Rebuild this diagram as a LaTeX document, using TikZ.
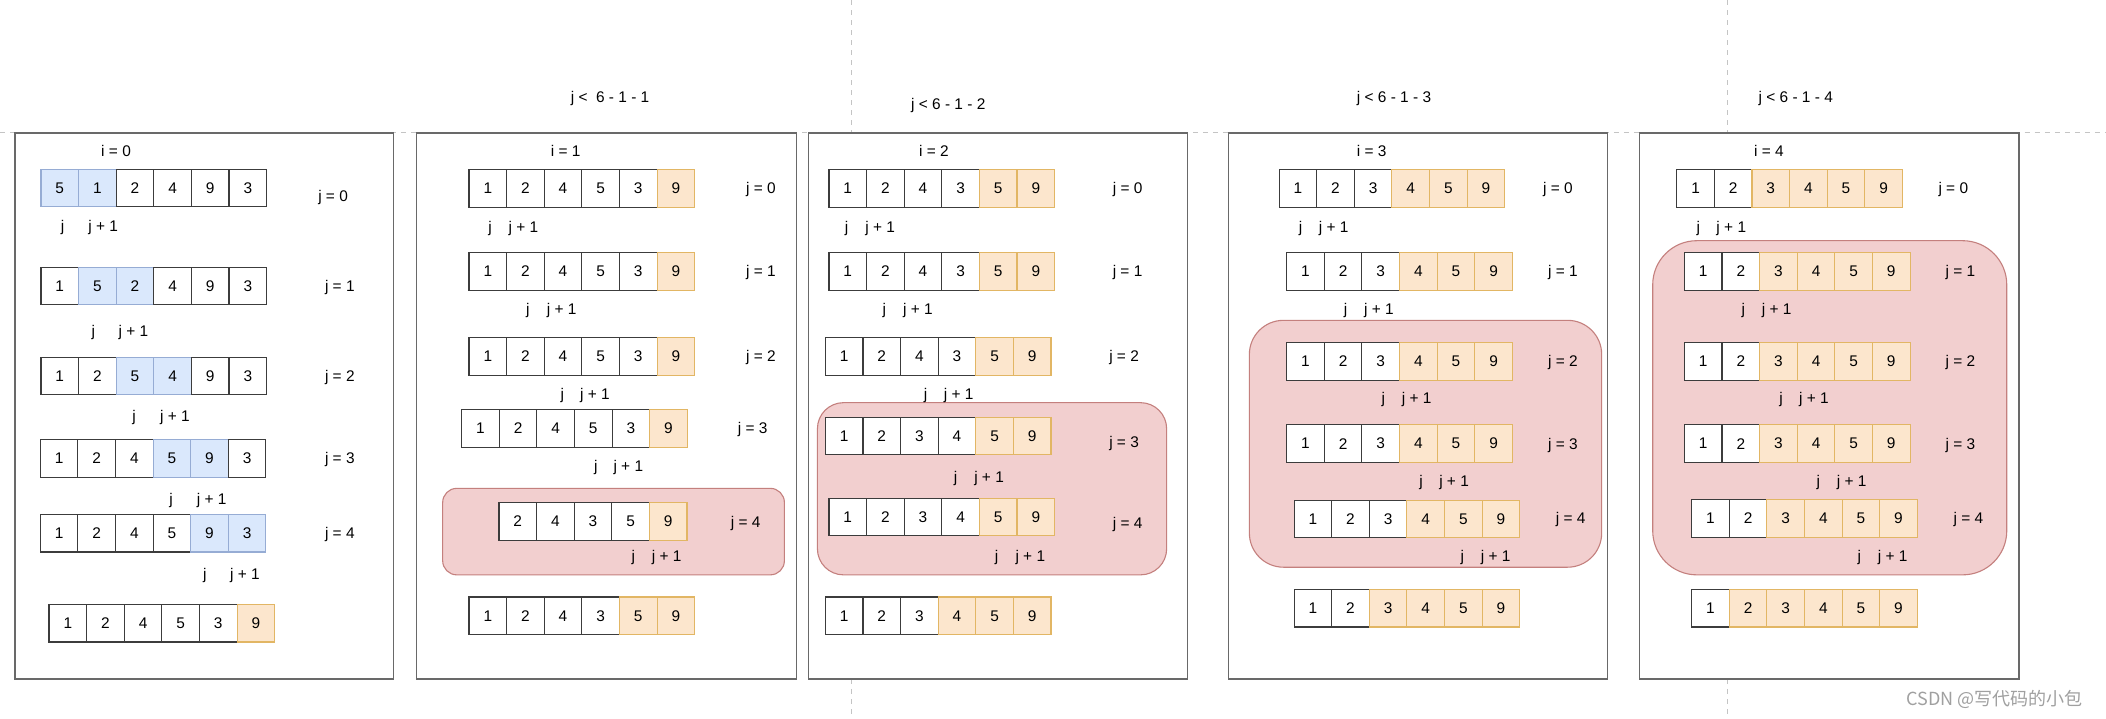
\documentclass[tikz,border=0pt]{standalone}
\usepackage{fontspec}
\setmainfont{Liberation Sans}
\newfontfamily\cjkfont{Noto Sans CJK SC}
\definecolor{cellline}{RGB}{60, 60, 60}
\definecolor{swapfill}{RGB}{218, 232, 252}
\definecolor{swapline}{RGB}{150, 172, 212}
\definecolor{donefill}{RGB}{252, 230, 205}
\definecolor{doneline}{RGB}{226, 182, 100}
\definecolor{tailfill}{RGB}{242, 207, 207}
\definecolor{tailline}{RGB}{196, 128, 126}
\definecolor{guideline}{RGB}{196, 196, 196}
\definecolor{panelline}{RGB}{105, 105, 105}
\definecolor{markgray}{RGB}{160, 160, 160}
\usetikzlibrary{calc}
\tikzset{
    every node/.style={font=\fontsize{7.7}{9}\selectfont},
    cellw/.style={draw=cellline, fill=white, line width=.55pt,
        minimum size=18.76pt, inner sep=0pt},
    cellb/.style={cellw, draw=swapline, fill=swapfill},
    cello/.style={cellw, draw=doneline, fill=donefill},
    kind/.style={cell#1},
    note/.style={inner sep=0pt, text height=5.5pt, text depth=0pt},
    guide/.style={draw=guideline, line width=.5pt,
        dash pattern=on 2.5pt off 2.5pt},
    panel/.style={draw=panelline, fill=white, line width=.65pt},
    tailbox/.style={draw=tailline, fill=tailfill, line width=.55pt},
    % one row of the array, origin at its left edge
    pics/cellrow/.style={code={
        \foreach \v/\s [count=\k] in {#1}
            \node[kind=\s] (-c\k) at ({28*\k-14}, 0) {\v};
    }},
}

\begin{document}
\begin{tikzpicture}[x=.67pt, y=-.67pt]
    \useasboundingbox (0, 0) rectangle (1568, 535);
    \draw[guide] (0, 99) -- (1568, 99);
    \foreach \x in {634.1, 1286.3} {
        \draw[guide] (\x, 0) -- (\x, 99);
        \draw[guide] (\x, 505.5) -- (\x, 535);
    }
    \foreach \l/\r in {11.2/293.2, 310.2/593.2, 601.8/884.3, 914.6/1197,
        1220.6/1503.3}
        \draw[panel] (\l, 99) rectangle (\r, 505.5);
    \draw[tailbox, rounded corners=7pt] (329.6, 363.6) rectangle (584, 428);
    \draw[tailbox, rounded corners=13pt] (608.6, 299.8) rectangle (868.6, 428);
    \draw[tailbox, rounded corners=17pt] (930.2, 238.5) rectangle (1192.5, 422.3);
    \draw[tailbox, rounded corners=22pt] (1230.5, 179.2) rectangle (1494.1, 428);

    \node (lim1) at (454.2, 73) {j <~~6 - 1 - 1};
    \node (lim2) at (706, 78.9) {j < 6 - 1 - 2};
    \node (lim3) at (1037.9, 73) {j < 6 - 1 - 3};
    \node (lim4) at (1337, 73) {j < 6 - 1 - 4};
    \foreach \x/\k in {86.4/0, 421.2/1, 695.3/2, 1021.3/3, 1317.1/4}
        \node[note] (i\k) at (\x, 112.4) {i = \k};

    % i = 0
    \pic (pa0) at (30.5, 140) {cellrow={5/b,1/b,2/w,4/w,9/w,3/w}};
    \pic (pa1) at (30.5, 213) {cellrow={1/w,5/b,2/b,4/w,9/w,3/w}};
    \pic (pa2) at (30.5, 280) {cellrow={1/w,2/w,5/b,4/b,9/w,3/w}};
    \pic (pa3) at (30, 341.4) {cellrow={1/w,2/w,4/w,5/b,9/b,3/w}};
    \pic (pa4) at (30, 397) {cellrow={1/w,2/w,4/w,5/w,9/b,3/b}};
    \pic (pa5) at (36.5, 464) {cellrow={1/w,2/w,4/w,5/w,3/w,9/o}};
    \foreach \x/\y [count=\k from 0] in {248/146, 253/213, 253/280, 253/341,
        253/397}
        \node[note] (pa-j\k) at (\x, \y) {j = \k};
    \foreach \x/\xx/\y [count=\k from 0] in {46.6/76.9/168.6, 69.5/99.3/246.8,
        99.8/130.3/309.5, 127.3/157.6/371.7, 152.6/182.4/427.6} {
        \node[note] (pa-p\k) at (\x, \y) {j};
        \node[note] (pa-q\k) at (\xx, \y) {j + 1};
    }

    % i = 1
    \pic (pb0) at (349.2, 140.2) {cellrow={1/w,2/w,4/w,5/w,3/w,9/o}};
    \pic (pb1) at (349.2, 202) {cellrow={1/w,2/w,4/w,5/w,3/w,9/o}};
    \pic (pb2) at (349.2, 265.3) {cellrow={1/w,2/w,4/w,5/w,3/w,9/o}};
    \pic (pb3) at (343.7, 318.9) {cellrow={1/w,2/w,4/w,5/w,3/w,9/o}};
    \pic (pb4) at (371.5, 388.2) {cellrow={2/w,4/w,3/w,5/w,9/o}};
    \pic (pb5) at (349.2, 458.5) {cellrow={1/w,2/w,4/w,3/w,5/o,9/o}};
    \foreach \x/\y [count=\k from 0] in {566.6/140.2, 566.6/202, 566.6/265.3,
        560.4/318.9, 555.2/389}
        \node[note] (pb-j\k) at (\x, \y) {j = \k};
    \foreach \x/\xx/\y [count=\k from 0] in {364.8/389.7/168.7, 392.9/418.2/229.7,
        418.7/443/293.2, 443.7/467.8/347.3, 471.5/496.4/414.3} {
        \node[note] (pb-p\k) at (\x, \y) {j};
        \node[note] (pb-q\k) at (\xx, \y) {j + 1};
    }

    % i = 2
    \pic (pc0) at (617.2, 140.2) {cellrow={1/w,2/w,4/w,3/w,5/o,9/o}};
    \pic (pc1) at (617.2, 202) {cellrow={1/w,2/w,4/w,3/w,5/o,9/o}};
    \pic (pc2) at (614.5, 265.3) {cellrow={1/w,2/w,4/w,3/w,5/o,9/o}};
    \pic (pc3) at (614.5, 324.6) {cellrow={1/w,2/w,3/w,4/w,5/o,9/o}};
    \pic (pc4) at (617.2, 384.9) {cellrow={1/w,2/w,3/w,4/w,5/o,9/o}};
    \pic (pc5) at (614.5, 458.5) {cellrow={1/w,2/w,3/w,4/o,5/o,9/o}};
    \foreach \x/\y [count=\k from 0] in {839.6/140.2, 839.5/202, 836.9/265.3,
        836.9/328.9, 839.6/389.2}
        \node[note] (pc-j\k) at (\x, \y) {j = \k};
    \foreach \x/\xx/\y [count=\k from 0] in {630.4/655.4/168.7, 658.4/683.5/229.7,
        689.2/713.8/293.2, 711.5/736.4/355.1, 742/767.1/414.3} {
        \node[note] (pc-p\k) at (\x, \y) {j};
        \node[note] (pc-q\k) at (\xx, \y) {j + 1};
    }

    % i = 3
    \pic (pd0) at (952.3, 140.2) {cellrow={1/w,2/w,3/w,4/o,5/o,9/o}};
    \pic (pd1) at (958, 202) {cellrow={1/w,2/w,3/w,4/o,5/o,9/o}};
    \pic (pd2) at (958, 269) {cellrow={1/w,2/w,3/w,4/o,5/o,9/o}};
    \pic (pd3) at (958, 330.3) {cellrow={1/w,2/w,3/w,4/o,5/o,9/o}};
    \pic (pd4) at (963.5, 386.5) {cellrow={1/w,2/w,3/w,4/o,5/o,9/o}};
    \pic (pd5) at (963.5, 452.8) {cellrow={1/w,2/w,3/o,4/o,5/o,9/o}};
    \foreach \x/\y [count=\k from 0] in {1160/140.2, 1163.7/202, 1163.6/269,
        1163.6/330.3, 1169.5/386}
        \node[note] (pd-j\k) at (\x, \y) {j = \k};
    \foreach \x/\xx/\y [count=\k from 0] in {968.4/993/168.7, 1001.9/1026.7/229.7,
        1030/1054.8/296.6, 1058/1082.6/358.2, 1088.8/1113.6/414.3} {
        \node[note] (pd-p\k) at (\x, \y) {j};
        \node[note] (pd-q\k) at (\xx, \y) {j + 1};
    }

    % i = 4
    \pic (pe0) at (1248.4, 140.2) {cellrow={1/w,2/w,3/o,4/o,5/o,9/o}};
    \pic (pe1) at (1254.1, 202) {cellrow={1/w,2/w,3/o,4/o,5/o,9/o}};
    \pic (pe2) at (1254.1, 269) {cellrow={1/w,2/w,3/o,4/o,5/o,9/o}};
    \pic (pe3) at (1254.1, 330.3) {cellrow={1/w,2/w,3/o,4/o,5/o,9/o}};
    \pic (pe4) at (1259.5, 386) {cellrow={1/w,2/w,3/o,4/o,5/o,9/o}};
    \pic (pe5) at (1259.5, 452.8) {cellrow={1/w,2/o,3/o,4/o,5/o,9/o}};
    \foreach \x/\y [count=\k from 0] in {1454.3/140.2, 1459.6/202, 1459.6/269,
        1459.6/330.3, 1465.5/386}
        \node[note] (pe-j\k) at (\x, \y) {j = \k};
    \foreach \x/\xx/\y [count=\k from 0] in {1264.5/1289/168.7, 1298/1322.8/229.7,
        1326/1350.6/296.6, 1353.8/1378.7/358.2, 1384.3/1409.2/414.3} {
        \node[note] (pe-p\k) at (\x, \y) {j};
        \node[note] (pe-q\k) at (\xx, \y) {j + 1};
    }

    \node[text=markgray, font=\cjkfont\fontsize{9}{10}\selectfont] (mark)
        at (1485, 521) {CSDN @写代码的小包};
\end{tikzpicture}
\end{document}
